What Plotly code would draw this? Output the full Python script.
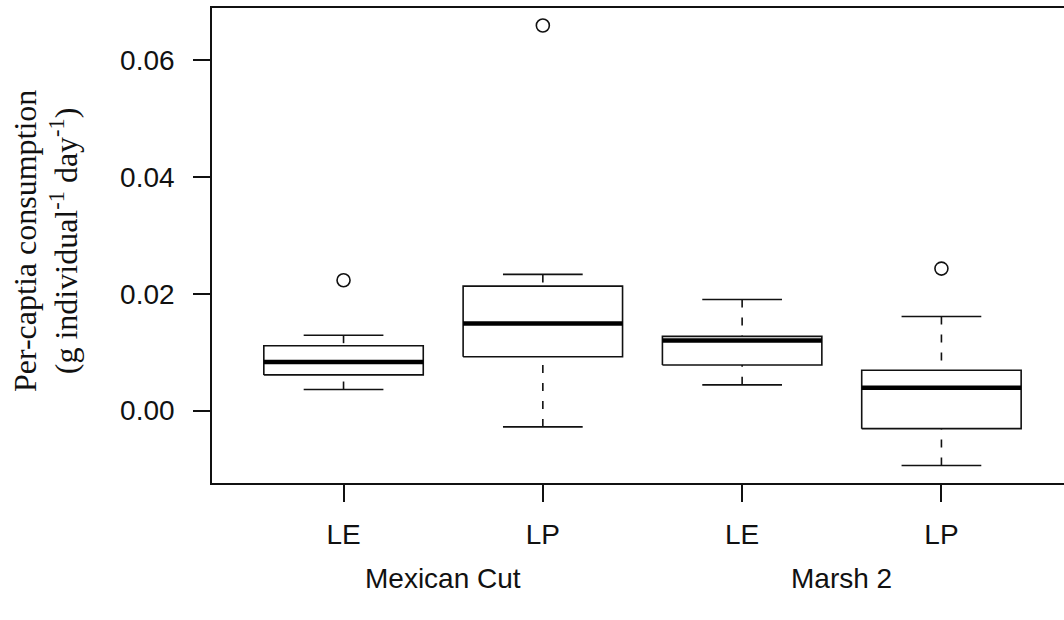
import plotly.graph_objects as go

# Per-capita consumption summaries (Tukey five-number stats + outliers)
groups = ["Mexican Cut", "Marsh 2"]
species = ["LE", "LP", "LE", "LP"]
positions = [1, 2, 3, 4]

whisker_low = [0.0036, -0.0028, 0.0044, -0.0094]
q1 = [0.0061, 0.0092, 0.0078, -0.0031]
median = [0.0083, 0.0149, 0.0120, 0.0039]
q3 = [0.0111, 0.0213, 0.0127, 0.0069]
whisker_high = [0.0129, 0.0233, 0.0190, 0.0161]

outlier_pos = [1, 2, 4]
outlier_val = [0.0223, 0.0659, 0.0243]

y_ticks = [0.00, 0.02, 0.04, 0.06]

BOX_HALF = 0.4
CAP_HALF = 0.2
INK = "#111111"

box_x, box_y = [], []
med_x, med_y = [], []
wh_x, wh_y = [], []
cap_x, cap_y = [], []
for p, lo, a, m, b, hi in zip(positions, whisker_low, q1, median, q3, whisker_high):
    box_x += [p - BOX_HALF, p + BOX_HALF, p + BOX_HALF, p - BOX_HALF, p - BOX_HALF, None]
    box_y += [a, a, b, b, a, None]
    med_x += [p - BOX_HALF, p + BOX_HALF, None]
    med_y += [m, m, None]
    # whiskers run from the cap towards the hinge
    wh_x += [p, p, None, p, p, None]
    wh_y += [lo, a, None, hi, b, None]
    cap_x += [p - CAP_HALF, p + CAP_HALF, None, p - CAP_HALF, p + CAP_HALF, None]
    cap_y += [lo, lo, None, hi, hi, None]

fig = go.Figure()
fig.add_trace(go.Scatter(x=wh_x, y=wh_y, mode="lines",
                         line=dict(color=INK, width=1.6, dash="8px,10px"),
                         hoverinfo="skip", showlegend=False))
fig.add_trace(go.Scatter(x=cap_x, y=cap_y, mode="lines",
                         line=dict(color=INK, width=1.6),
                         hoverinfo="skip", showlegend=False))
fig.add_trace(go.Scatter(x=box_x, y=box_y, mode="lines",
                         line=dict(color=INK, width=1.6),
                         hoverinfo="skip", showlegend=False))
fig.add_trace(go.Scatter(x=med_x, y=med_y, mode="lines",
                         line=dict(color="black", width=4.5),
                         hoverinfo="skip", showlegend=False))
fig.add_trace(go.Scatter(x=outlier_pos, y=outlier_val, mode="markers",
                         marker=dict(symbol="circle-open", size=13,
                                     color=INK, line=dict(width=1.6)),
                         hoverinfo="skip", showlegend=False))

sans = "Liberation Sans, Arial, sans-serif"
serif = "Liberation Serif, Times New Roman, serif"

fig.update_layout(
    width=1064, height=620,
    margin=dict(l=212, r=0, t=8, b=137),
    paper_bgcolor="white", plot_bgcolor="white",
    font=dict(family=sans, size=28, color=INK),
    xaxis=dict(range=[0.34, 4.615], tickvals=positions, ticktext=species,
               tickfont=dict(family=sans, size=28, color=INK),
               showgrid=False, zeroline=False,
               showline=True, mirror=True, linecolor=INK, linewidth=1.6,
               ticks="outside", ticklen=17, tickwidth=1.5, tickcolor=INK,
               ticklabelstandoff=9),
    yaxis=dict(range=[-0.0124, 0.0689], tickvals=y_ticks, tickformat=".2f",
               tickfont=dict(family=sans, size=28, color=INK),
               showgrid=False, zeroline=False,
               showline=True, mirror=False, linecolor=INK, linewidth=1.6,
               ticks="outside", ticklen=17, tickwidth=1.5, tickcolor=INK,
               ticklabelstandoff=13),
)

for label, centre in zip(groups, [1.5, 3.5]):
    fig.add_annotation(x=centre, xref="x", y=-0.20, yref="paper",
                       text=label, showarrow=False,
                       font=dict(family=sans, size=28, color=INK),
                       xanchor="center", yanchor="middle")

fig.add_annotation(
    x=-0.195, xref="paper", y=0.509, yref="paper",
    text="Per-captia consumption<br>(g individual<sup>-1</sup> day<sup>-1</sup>)",
    textangle=-90, showarrow=False,
    font=dict(family=serif, size=32, color=INK),
    xanchor="center", yanchor="middle",
)

fig.write_html("out.html")
